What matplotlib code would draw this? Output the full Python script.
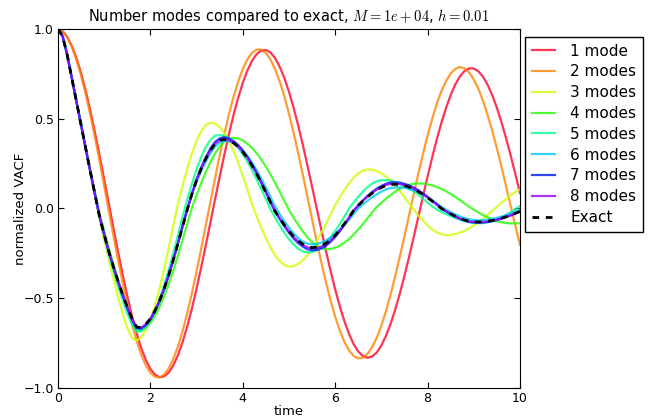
import numpy as np
import matplotlib
matplotlib.use("Agg")
import matplotlib.pyplot as plt

# sample times (0 to 10, every 0.1)
time = np.linspace(0, 10, 101)

mode_1 = [1.000, 0.988, 0.956, 0.905, 0.838, 0.754, 0.656, 0.545, 0.424, 0.296,
          0.163, 0.027, -0.108, -0.241, -0.368, -0.487, -0.597, -0.693, -0.776, -0.843,
          -0.894, -0.926, -0.940, -0.935, -0.913, -0.872, -0.815, -0.742, -0.655, -0.556,
          -0.446, -0.328, -0.204, -0.077, 0.051, 0.177, 0.299, 0.414, 0.521, 0.617,
          0.700, 0.769, 0.823, 0.860, 0.880, 0.883, 0.869, 0.838, 0.789, 0.727,
          0.650, 0.561, 0.462, 0.354, 0.239, 0.121, 0.001, -0.119, -0.236, -0.347,
          -0.451, -0.545, -0.628, -0.699, -0.756, -0.797, -0.822, -0.832, -0.824, -0.802,
          -0.763, -0.709, -0.642, -0.563, -0.473, -0.374, -0.269, -0.159, -0.046, 0.067,
          0.178, 0.285, 0.386, 0.478, 0.560, 0.632, 0.691, 0.736, 0.766, 0.781,
          0.780, 0.764, 0.734, 0.689, 0.631, 0.561, 0.480, 0.390, 0.294, 0.191,
          0.086]
mode_2 = [1.000, 0.987, 0.954, 0.901, 0.829, 0.741, 0.638, 0.523, 0.397, 0.264,
          0.126, -0.014, -0.152, -0.287, -0.415, -0.534, -0.641, -0.735, -0.813, -0.873,
          -0.915, -0.938, -0.941, -0.925, -0.890, -0.836, -0.766, -0.680, -0.581, -0.470,
          -0.350, -0.224, -0.093, 0.038, 0.169, 0.295, 0.414, 0.524, 0.623, 0.707,
          0.778, 0.831, 0.867, 0.885, 0.885, 0.866, 0.829, 0.776, 0.707, 0.624,
          0.528, 0.421, 0.307, 0.187, 0.064, -0.060, -0.182, -0.300, -0.411, -0.512,
          -0.603, -0.680, -0.743, -0.791, -0.822, -0.835, -0.831, -0.810, -0.772, -0.720,
          -0.652, -0.571, -0.478, -0.376, -0.267, -0.154, -0.037, 0.080, 0.194, 0.304,
          0.406, 0.500, 0.584, 0.654, 0.710, 0.752, 0.778, 0.788, 0.781, 0.758,
          0.719, 0.667, 0.600, 0.521, 0.433, 0.335, 0.232, 0.123, 0.013, -0.096,
          -0.203]
mode_3 = [1.000, 0.960, 0.855, 0.725, 0.594, 0.463, 0.332, 0.200, 0.070, -0.058,
          -0.175, -0.285, -0.390, -0.490, -0.585, -0.665, -0.720, -0.737, -0.718, -0.678,
          -0.618, -0.538, -0.443, -0.334, -0.215, -0.090, 0.030, 0.130, 0.224, 0.308,
          0.378, 0.431, 0.465, 0.478, 0.472, 0.453, 0.421, 0.376, 0.320, 0.255,
          0.183, 0.105, 0.024, -0.045, -0.107, -0.166, -0.217, -0.261, -0.294, -0.315,
          -0.324, -0.321, -0.309, -0.289, -0.261, -0.225, -0.183, -0.136, -0.086, -0.032,
          0.018, 0.062, 0.104, 0.141, 0.172, 0.196, 0.211, 0.218, 0.216, 0.209,
          0.196, 0.177, 0.154, 0.127, 0.096, 0.063, 0.028, -0.006, -0.038, -0.067,
          -0.094, -0.116, -0.133, -0.144, -0.148, -0.147, -0.142, -0.134, -0.124, -0.110,
          -0.094, -0.076, -0.056, -0.035, -0.013, 0.009, 0.032, 0.054, 0.074, 0.092,
          0.106]
mode_4 = [1.000, 0.962, 0.858, 0.730, 0.600, 0.472, 0.343, 0.214, 0.088, -0.030,
          -0.125, -0.222, -0.310, -0.395, -0.475, -0.550, -0.628, -0.682, -0.681, -0.665,
          -0.637, -0.598, -0.548, -0.488, -0.419, -0.343, -0.260, -0.173, -0.083, 0.004,
          0.074, 0.141, 0.203, 0.259, 0.306, 0.345, 0.373, 0.389, 0.394, 0.390,
          0.379, 0.361, 0.338, 0.308, 0.273, 0.233, 0.189, 0.142, 0.093, 0.042,
          -0.008, -0.051, -0.091, -0.128, -0.161, -0.188, -0.208, -0.221, -0.227, -0.225,
          -0.219, -0.207, -0.191, -0.170, -0.145, -0.117, -0.087, -0.054, -0.021, 0.009,
          0.032, 0.055, 0.075, 0.094, 0.110, 0.123, 0.132, 0.138, 0.140, 0.139,
          0.135, 0.128, 0.120, 0.109, 0.096, 0.081, 0.064, 0.047, 0.028, 0.010,
          -0.007, -0.022, -0.036, -0.049, -0.060, -0.070, -0.077, -0.081, -0.083, -0.083,
          -0.082]
mode_5 = [1.000, 0.960, 0.855, 0.725, 0.594, 0.463, 0.333, 0.202, 0.073, -0.050,
          -0.155, -0.255, -0.345, -0.430, -0.510, -0.585, -0.645, -0.688, -0.682, -0.659,
          -0.620, -0.568, -0.502, -0.426, -0.339, -0.245, -0.145, -0.042, 0.053, 0.138,
          0.218, 0.287, 0.343, 0.383, 0.405, 0.410, 0.403, 0.389, 0.367, 0.338,
          0.302, 0.260, 0.213, 0.162, 0.108, 0.052, -0.005, -0.051, -0.095, -0.136,
          -0.172, -0.201, -0.224, -0.239, -0.245, -0.243, -0.232, -0.215, -0.191, -0.160,
          -0.125, -0.086, -0.044, 0.000, 0.034, 0.065, 0.095, 0.119, 0.139, 0.152,
          0.158, 0.158, 0.155, 0.148, 0.139, 0.126, 0.112, 0.095, 0.076, 0.055,
          0.033, 0.011, -0.006, -0.019, -0.031, -0.043, -0.053, -0.062, -0.070, -0.076,
          -0.080, -0.082, -0.082, -0.078, -0.072, -0.062, -0.050, -0.036, -0.020, -0.003,
          0.013]
mode_6 = [1.000, 0.960, 0.855, 0.725, 0.595, 0.465, 0.335, 0.205, 0.080, -0.045,
          -0.145, -0.242, -0.328, -0.410, -0.487, -0.558, -0.622, -0.670, -0.672, -0.653,
          -0.621, -0.575, -0.518, -0.449, -0.371, -0.285, -0.193, -0.098, -0.005, 0.078,
          0.148, 0.210, 0.261, 0.308, 0.344, 0.367, 0.377, 0.375, 0.365, 0.347,
          0.323, 0.292, 0.255, 0.213, 0.166, 0.116, 0.064, 0.011, -0.032, -0.071,
          -0.107, -0.139, -0.165, -0.184, -0.196, -0.200, -0.198, -0.190, -0.178, -0.162,
          -0.141, -0.118, -0.091, -0.062, -0.031, 0.000, 0.022, 0.043, 0.062, 0.079,
          0.094, 0.106, 0.114, 0.117, 0.118, 0.115, 0.109, 0.101, 0.090, 0.077,
          0.062, 0.045, 0.028, 0.009, -0.007, -0.020, -0.033, -0.044, -0.053, -0.060,
          -0.065, -0.066, -0.065, -0.062, -0.058, -0.052, -0.045, -0.036, -0.027, -0.016,
          -0.005]
mode_7 = [1.000, 0.960, 0.855, 0.725, 0.595, 0.465, 0.335, 0.205, 0.080, -0.045,
          -0.145, -0.240, -0.326, -0.407, -0.483, -0.554, -0.617, -0.666, -0.669, -0.650,
          -0.618, -0.572, -0.515, -0.446, -0.368, -0.282, -0.190, -0.094, -0.001, 0.084,
          0.163, 0.229, 0.286, 0.335, 0.371, 0.391, 0.397, 0.390, 0.376, 0.354,
          0.324, 0.288, 0.246, 0.199, 0.146, 0.092, 0.035, -0.017, -0.059, -0.098,
          -0.135, -0.167, -0.193, -0.213, -0.227, -0.233, -0.231, -0.223, -0.208, -0.186,
          -0.159, -0.127, -0.091, -0.052, -0.012, 0.018, 0.045, 0.070, 0.092, 0.111,
          0.126, 0.138, 0.145, 0.146, 0.144, 0.137, 0.129, 0.117, 0.102, 0.084,
          0.065, 0.044, 0.023, 0.000, -0.016, -0.032, -0.045, -0.058, -0.067, -0.075,
          -0.078, -0.079, -0.078, -0.075, -0.070, -0.064, -0.057, -0.048, -0.039, -0.028,
          -0.017]
mode_8 = [1.000, 0.960, 0.855, 0.725, 0.595, 0.465, 0.335, 0.205, 0.080, -0.045,
          -0.145, -0.240, -0.325, -0.405, -0.480, -0.550, -0.612, -0.661, -0.664, -0.645,
          -0.614, -0.569, -0.513, -0.445, -0.368, -0.283, -0.192, -0.097, -0.005, 0.082,
          0.158, 0.222, 0.278, 0.326, 0.361, 0.381, 0.386, 0.380, 0.366, 0.345,
          0.316, 0.281, 0.240, 0.194, 0.143, 0.090, 0.035, -0.016, -0.056, -0.094,
          -0.129, -0.159, -0.184, -0.203, -0.216, -0.222, -0.220, -0.212, -0.198, -0.177,
          -0.152, -0.121, -0.087, -0.050, -0.011, 0.017, 0.043, 0.066, 0.087, 0.105,
          0.119, 0.131, 0.137, 0.138, 0.136, 0.130, 0.121, 0.110, 0.096, 0.080,
          0.061, 0.042, 0.021, 0.000, -0.015, -0.031, -0.044, -0.056, -0.065, -0.072,
          -0.075, -0.077, -0.075, -0.072, -0.068, -0.062, -0.055, -0.047, -0.038, -0.028,
          -0.016]
exact = [1.000, 0.960, 0.855, 0.725, 0.595, 0.465, 0.335, 0.205, 0.080, -0.045,
         -0.145, -0.240, -0.325, -0.405, -0.480, -0.550, -0.612, -0.660, -0.663, -0.645,
         -0.614, -0.569, -0.513, -0.445, -0.368, -0.283, -0.192, -0.097, -0.005, 0.082,
         0.158, 0.222, 0.278, 0.325, 0.360, 0.380, 0.385, 0.379, 0.365, 0.344,
         0.315, 0.280, 0.239, 0.193, 0.142, 0.089, 0.034, -0.016, -0.055, -0.092,
         -0.126, -0.156, -0.180, -0.199, -0.212, -0.218, -0.216, -0.208, -0.194, -0.174,
         -0.149, -0.119, -0.085, -0.049, -0.011, 0.017, 0.042, 0.065, 0.085, 0.103,
         0.117, 0.128, 0.134, 0.135, 0.133, 0.127, 0.119, 0.108, 0.094, 0.078,
         0.060, 0.041, 0.021, 0.000, -0.015, -0.030, -0.043, -0.055, -0.064, -0.071,
         -0.074, -0.075, -0.074, -0.071, -0.067, -0.061, -0.054, -0.046, -0.037, -0.027,
         -0.016]

modes = [mode_1, mode_2, mode_3, mode_4, mode_5, mode_6, mode_7, mode_8]
labels = ["1 mode", "2 modes", "3 modes", "4 modes",
          "5 modes", "6 modes", "7 modes", "8 modes"]

plt.rcParams["mathtext.fontset"] = "cm"

fig = plt.figure(figsize=(6.53, 4.19), dpi=100)
ax = fig.add_axes([0.0888, 0.074, 0.7075, 0.8568])

colors = plt.cm.gist_rainbow(np.arange(8) / 8.0)
for i in range(8):
    ax.plot(time, modes[i], color=colors[i], alpha=0.8, lw=1.6, label=labels[i])
ax.plot(time, exact, color="k", ls="--", dashes=(2.4, 2.4), lw=2, label="Exact")

ax.set_xlim(0, 10)
ax.set_ylim(-1, 1)
ax.set_xticks([0, 2, 4, 6, 8, 10])
ax.set_yticks([-1.0, -0.5, 0.0, 0.5, 1.0])
ax.tick_params(direction="in", top=True, right=True, length=4, labelsize=9, pad=3)

ax.set_title(r"Number modes compared to exact, $M=1e+04$, $h=0.01$", fontsize=10.5)
ax.set_xlabel("time", fontsize=9.5)
ax.set_ylabel("normalized VACF", fontsize=9.5)
ax.xaxis.set_label_coords(0.5, -0.047)
ax.yaxis.set_label_coords(-0.066, 0.5)

ax.legend(loc="upper left", bbox_to_anchor=(0.995, 1.0), fontsize=11,
          fancybox=False, edgecolor="black", framealpha=1,
          handlelength=1.5, handletextpad=1.0, borderpad=0.45, labelspacing=0.38)

fig.savefig("out.png", dpi=100)
